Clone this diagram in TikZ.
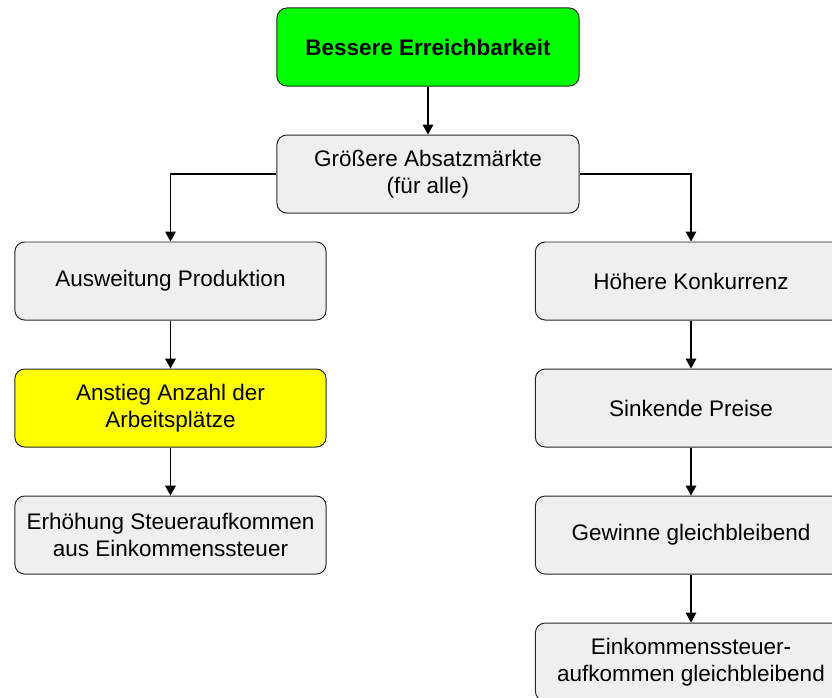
\documentclass[tikz,border=0pt]{standalone}
\usepackage{fontspec}
\setmainfont{Liberation Sans}
\usetikzlibrary{positioning,arrows.meta}
\definecolor{boxgray}{RGB}{239,239,239}
\definecolor{topgreen}{RGB}{0,255,0}
\definecolor{jobyellow}{RGB}{255,255,0}
\tikzset{
	effect/.style={draw=black!85, line width=0.7pt, rounded corners=7pt, fill=boxgray,
		align=center, minimum width=7.78cm, minimum height=1.95cm, inner sep=2pt,
		font=\fontsize{16}{19.2}\selectfont},
	wide/.style={effect, minimum width=7.55cm},
	flow/.style={-{Triangle[length=7pt,width=7.5pt]}, line width=0.9pt}
}

\begin{document}
\begin{tikzpicture}[x=0.025cm, y=-0.025cm, node distance=1.2cm]

	\useasboundingbox (0,0) rectangle (832,697);

	% top
	\node[wide, fill=topgreen, font=\fontsize{16}{19.2}\selectfont\bfseries] (access) at (428,47) {Bessere Erreichbarkeit};
	\node[wide, below=of access] (markets) {Größere Absatzmärkte\\(für alle)};

	% left branch
	\node[effect] (production) at (170.5,281) {Ausweitung Produktion};
	\node[effect, fill=jobyellow, below=of production] (jobs) {Anstieg Anzahl der\\Arbeitsplätze};
	\node[effect, below=of jobs] (taxup) {Erhöhung Steueraufkommen\\aus Einkommenssteuer};

	% right branch
	\node[effect] (competition) at (691,281) {Höhere Konkurrenz};
	\node[effect, below=of competition] (prices) {Sinkende Preise};
	\node[effect, below=of prices] (profits) {Gewinne gleichbleibend};
	\node[effect, below=of profits] (taxsame) {Einkommenssteuer-\\aufkommen gleichbleibend};

	\draw[flow] (access) -- (markets);
	\draw[flow] (markets.west) -| (production.north);
	\draw[flow] (markets.east) -| (competition.north);
	\draw[flow] (production) -- (jobs);
	\draw[flow] (jobs) -- (taxup);
	\draw[flow] (competition) -- (prices);
	\draw[flow] (prices) -- (profits);
	\draw[flow] (profits) -- (taxsame);

\end{tikzpicture}
\end{document}
